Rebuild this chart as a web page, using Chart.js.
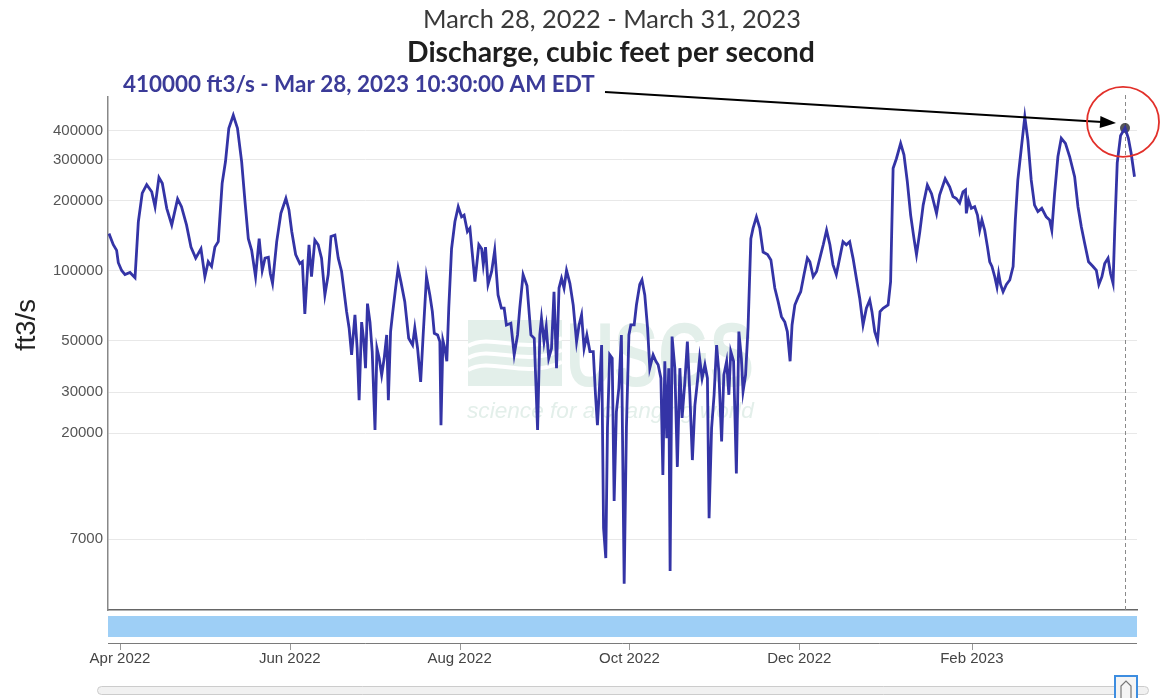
<!DOCTYPE html>
<html>
<head>
<meta charset="utf-8">
<title>Discharge, cubic feet per second</title>
<script src="https://cdn.jsdelivr.net/npm/chart.js@4.4.1/dist/chart.umd.min.js"></script>
<style>
  html, body { margin: 0; padding: 0; background: #fff; }
  #flow-chart { display: block; }
</style>
</head>
<body>
<canvas id="flow-chart" width="1161" height="698"></canvas>
<script>
// days after Apr 1, 2022 and discharge (ft3/s)
const days = [
  -3.95, -2.4, -1.2, -0.6, 0.6, 1.8, 3.6, 5.4, 6.6, 8.0,
  9.6, 11.4, 12.6, 14.0, 15.2, 16.8, 18.6, 20.7, 22.1, 23.9,
  25.5, 27.2, 29.1, 30.5, 31.7, 32.9, 34.1, 35.3, 36.7, 37.9,
  39.1, 40.7, 42.2, 43.7, 44.9, 46.1, 47.3, 48.7, 50.0, 51.1,
  52.1, 53.3, 54.0, 54.8, 56.3, 57.8, 59.6, 60.7, 61.7, 63.1,
  64.6, 65.5, 66.4, 67.9, 68.8, 70.0, 71.2, 72.4, 73.6, 74.8,
  75.8, 77.2, 78.4, 79.6, 81.4, 82.3, 83.2, 84.4, 85.2, 85.9,
  86.8, 87.6, 88.2, 88.9, 89.8, 90.6, 91.6, 92.3, 93.1, 94.0,
  94.9, 95.8, 96.4, 97.2, 97.9, 99.0, 99.9, 100.9, 102.3, 103.7,
  105.1, 105.9, 106.9, 108.0, 108.9, 110.1, 111.3, 112.2, 112.9, 114.1,
  114.9, 115.3, 116.0, 116.7, 117.4, 118.1, 119.1, 120.3, 121.5, 122.7,
  123.6, 124.8, 125.7, 126.5, 127.5, 128.9, 129.9, 130.5, 131.3, 132.2,
  133.5, 134.6, 135.8, 137.0, 138.0, 138.8, 140.4, 141.6, 142.8, 143.6,
  144.8, 146.2, 147.6, 148.8, 150.0, 150.8, 151.4, 152.3, 153.1, 154.0,
  155.0, 155.9, 156.8, 157.7, 158.6, 159.5, 160.4, 161.6, 162.8, 164.0,
  164.9, 165.8, 166.7, 167.7, 168.8, 170.0, 170.8, 171.5, 172.4, 173.0,
  173.7, 174.5, 175.1, 175.9, 176.8, 177.5, 178.3, 179.2, 180.1, 181.1,
  181.9, 182.8, 183.5, 184.7, 185.5, 186.7, 187.5, 188.5, 189.5, 190.3,
  191.5, 192.5, 193.3, 194.3, 195.0, 195.7, 196.4, 197.1, 197.6, 198.3,
  199.3, 200.2, 201.1, 201.9, 202.9, 203.8, 204.7, 205.6, 206.5, 207.4,
  208.2, 209.1, 210.1, 211.0, 211.6, 212.5, 213.4, 214.3, 215.1, 216.1,
  216.9, 217.9, 218.7, 219.4, 220.4, 221.4, 222.3, 223.2, 223.8, 224.7,
  225.6, 226.6, 227.4, 228.6, 229.8, 231.0, 232.6, 233.8, 235.2, 236.4,
  237.6, 238.8, 239.7, 240.7, 241.4, 242.4, 243.6, 244.5, 245.7, 246.9,
  247.8, 249.0, 250.2, 251.7, 252.6, 253.8, 255.0, 256.1, 257.3, 258.5,
  259.7, 260.9, 262.1, 263.3, 264.5, 265.7, 266.9, 268.1, 269.3, 270.1,
  271.1, 272.1, 273.0, 274.1, 275.9, 276.8, 277.7, 278.9, 280.4, 281.6,
  282.8, 284.0, 285.2, 286.1, 287.3, 288.5, 290.0, 291.5, 293.3, 294.4,
  296.4, 298.0, 299.2, 300.4, 301.6, 302.8, 303.7, 304.0, 304.8, 305.8,
  307.0, 308.0, 308.8, 309.6, 310.6, 311.6, 312.4, 313.2, 314.2, 315.0,
  315.6, 316.3, 317.2, 318.4, 319.6, 320.8, 321.6, 322.5, 323.8, 325.0,
  326.1, 327.3, 328.5, 329.7, 331.1, 332.7, 333.9, 334.7, 335.7, 336.9,
  338.1, 339.6, 341.1, 342.9, 344.1, 345.3, 346.5, 347.9, 349.5, 350.7,
  351.6, 352.7, 353.7, 354.9, 355.8, 356.7, 357.3, 358.2, 359.4, 361.0,
  362.2, 363.2, 364.4
];
const flows = [
  144000, 129000, 122000, 108000, 100000, 96000, 98000, 93000, 162000, 215000,
  234000, 218000, 188000, 251000, 237000, 185000, 157000, 203000, 188000, 157000,
  126000, 113000, 124000, 94000, 109000, 104000, 126000, 133000, 237000, 294000,
  409000, 465000, 409000, 294000, 198000, 137000, 122000, 94000, 137000, 100000,
  113000, 114000, 97000, 88000, 133000, 176000, 204000, 182000, 147000, 117000,
  107000, 109000, 65000, 129000, 94000, 135000, 129000, 113000, 78500, 96000,
  140000, 142000, 113000, 99000, 66500, 56600, 43400, 64400, 46200, 27700,
  60000, 49400, 38000, 72000, 60000, 44800, 20600, 46200, 41900, 35500,
  41900, 52800, 27700, 54600, 65000, 84000, 102000, 89500, 73400, 51100,
  47800, 56600, 46200, 33200, 52800, 94000, 78500, 66500, 53700, 52800,
  49400, 21600, 50000, 46200, 40700, 68800, 124000, 162000, 188000, 170000,
  173000, 147000, 152000, 120000, 89500, 129000, 124000, 106000, 126000, 87000,
  99000, 122000, 78500, 68800, 68800, 58300, 59300, 43400, 52800, 68800,
  96000, 86000, 52800, 51100, 20600, 52800, 62300, 49400, 57400, 41900,
  46200, 81000, 38000, 84000, 92500, 84000, 100000, 88000, 71000, 49400,
  58300, 64400, 46200, 52800, 44800, 44800, 29200, 21600, 34400, 47800,
  7800, 5800, 21000, 43400, 41900, 10200, 24600, 31300, 52800, 4500,
  21000, 52800, 58300, 58300, 71000, 87000, 91000, 78500, 56600, 38000,
  43400, 40700, 39300, 34400, 13200, 40700, 19000, 38000, 5100, 52000,
  38000, 14300, 38000, 23200, 33200, 49400, 29200, 15300, 26300, 33200,
  41900, 34400, 39300, 34400, 8600, 21000, 29200, 47800, 36700, 18400,
  35500, 40700, 29200, 44800, 40700, 13400, 54600, 41900, 30200, 35500,
  56600, 137000, 152000, 170000, 152000, 120000, 117000, 111000, 84000, 73400,
  63300, 60000, 54600, 40700, 58300, 71000, 77000, 81000, 96000, 113000,
  109000, 94000, 99000, 117000, 129000, 149000, 129000, 106000, 96000, 113000,
  133000, 129000, 133000, 113000, 92500, 76000, 58300, 68800, 74600, 66500,
  54600, 50000, 66500, 68800, 71000, 89500, 275000, 303000, 352000, 314000,
  241000, 173000, 137000, 117000, 147000, 191000, 233000, 214000, 176000, 211000,
  248000, 229000, 208000, 204000, 195000, 218000, 222000, 176000, 201000, 185000,
  188000, 173000, 149000, 165000, 149000, 126000, 109000, 104000, 94000, 85000,
  97000, 87000, 81000, 87000, 91000, 104000, 165000, 245000, 340000, 458000,
  364000, 245000, 191000, 179000, 185000, 170000, 165000, 149000, 214000, 309000,
  370000, 352000, 309000, 253000, 188000, 154000, 131000, 109000, 104000, 100000,
  87000, 94000, 107000, 113000, 97000, 88000, 149000, 290000, 380000, 410000,
  370000, 319000, 253000
];

// x ticks: first of every second month, as days after Apr 1, 2022
const tickDays = [0, 61, 122, 183, 244, 306];
const tickLabels = ['Apr 2022', 'Jun 2022', 'Aug 2022', 'Oct 2022', 'Dec 2022', 'Feb 2023'];
const yTicks = [7000, 20000, 30000, 50000, 100000, 200000, 300000, 400000];

// highlighted reading
const markerDay = 361;
const markerFlow = 410000;
const markerLabel = '410000 ft3/s - Mar 28, 2023 10:30:00 AM EDT';

const rangeTitle = 'March 28, 2022 - March 31, 2023';
const paramTitle = 'Discharge, cubic feet per second';
const unitTitle = 'ft3/s';

const lineColor = '#3434a6';
const chartCanvas = document.getElementById('flow-chart');

// write text so it takes a given width
function fitText(ctx, text, style, family, width, x, y, align) {
  ctx.font = style + ' 20px ' + family;
  const size = 20 * width / ctx.measureText(text).width;
  ctx.font = style + ' ' + size.toFixed(2) + 'px ' + family;
  ctx.textAlign = align;
  ctx.textBaseline = 'middle';
  ctx.fillText(text, x, y);
}

function drawWatermark(ctx) {
  ctx.save();
  ctx.fillStyle = '#e3efea';
  ctx.fillRect(468, 320, 94, 66);
  ctx.strokeStyle = '#ffffff';
  ctx.lineWidth = 4;
  for (let i = 0; i < 3; i++) {
    const y0 = 346 + i * 12;
    ctx.beginPath();
    ctx.moveTo(468, y0);
    ctx.bezierCurveTo(492, y0 - 14, 522, y0 + 10, 562, y0 - 8);
    ctx.stroke();
  }
  ctx.font = 'bold 90px "Liberation Sans"';
  const w = ctx.measureText('USGS').width;
  ctx.translate(566, 386);
  ctx.scale(188 / w, 1);
  ctx.textAlign = 'left';
  ctx.textBaseline = 'alphabetic';
  ctx.fillText('USGS', 0, 0);
  ctx.restore();

  ctx.save();
  ctx.fillStyle = '#e3efea';
  fitText(ctx, 'science for a changing world', 'italic', '"Liberation Sans"', 287, 467, 412, 'left');
  ctx.restore();
}

const overlayPlugin = {
  id: 'overlay',
  beforeDatasetsDraw(chart) {
    const ctx = chart.ctx;
    const area = chart.chartArea;
    drawWatermark(ctx);
    // dashed crosshair through the highlighted reading
    const px = chart.scales.x.getPixelForValue(markerDay);
    ctx.save();
    ctx.strokeStyle = '#8a8a8a';
    ctx.lineWidth = 1;
    ctx.setLineDash([4, 3]);
    ctx.beginPath();
    ctx.moveTo(Math.round(px) + 0.5, area.top - 2);
    ctx.lineTo(Math.round(px) + 0.5, area.bottom);
    ctx.stroke();
    ctx.restore();
  },
  afterDraw(chart) {
    const ctx = chart.ctx;
    const area = chart.chartArea;
    const xs = chart.scales.x;
    const ys = chart.scales.y;

    ctx.save();
    // titles
    ctx.fillStyle = '#3a3a3a';
    fitText(ctx, rangeTitle, 'normal', 'Lato', 378, 612, 20, 'center');
    ctx.fillStyle = '#1e1e1e';
    fitText(ctx, paramTitle, 'bold', 'Lato', 408, 611, 53, 'center');
    ctx.fillStyle = '#3b3b98';
    fitText(ctx, markerLabel, 'bold', 'Lato', 472, 123, 85, 'left');

    // y axis title
    ctx.save();
    ctx.translate(27, 325);
    ctx.rotate(-Math.PI / 2);
    ctx.fillStyle = '#222';
    fitText(ctx, unitTitle, 'normal', '"Liberation Sans"', 52, 0, 0, 'center');
    ctx.restore();

    // navigator strip under the plot
    ctx.fillStyle = 'rgb(158, 207, 246)';
    ctx.fillRect(area.left, 616, area.right - area.left, 21);
    ctx.strokeStyle = '#7a7a7a';
    ctx.lineWidth = 1;
    ctx.beginPath();
    ctx.moveTo(area.left, 643.5);
    ctx.lineTo(area.right, 643.5);
    ctx.stroke();
    ctx.strokeStyle = '#999';
    tickDays.forEach(function (d) {
      const tx = Math.round(xs.getPixelForValue(d)) + 0.5;
      ctx.beginPath();
      ctx.moveTo(tx, 644);
      ctx.lineTo(tx, 650);
      ctx.stroke();
    });

    // scrollbar
    ctx.fillStyle = '#f1f1f1';
    ctx.strokeStyle = '#cccccc';
    ctx.beginPath();
    ctx.roundRect(97.5, 686.5, 1051, 8, 4);
    ctx.fill();
    ctx.stroke();
    ctx.fillStyle = '#f4f4f4';
    ctx.strokeStyle = '#3d8de0';
    ctx.lineWidth = 2;
    ctx.fillRect(1115, 676, 22, 24);
    ctx.strokeRect(1115, 676, 22, 24);
    ctx.strokeStyle = '#777';
    ctx.lineWidth = 1.2;
    ctx.beginPath();
    ctx.moveTo(1121, 698);
    ctx.lineTo(1121, 686);
    ctx.lineTo(1126, 681);
    ctx.lineTo(1131, 686);
    ctx.lineTo(1131, 698);
    ctx.stroke();

    // arrow and ring pointing at the highlighted reading
    const mx = xs.getPixelForValue(markerDay);
    const my = ys.getPixelForValue(markerFlow);
    const tipX = mx - 9, tipY = my - 5;
    const sx = 605, sy = 92;
    const ang = Math.atan2(tipY - sy, tipX - sx);
    ctx.strokeStyle = '#000';
    ctx.fillStyle = '#000';
    ctx.lineWidth = 2;
    ctx.beginPath();
    ctx.moveTo(sx, sy);
    ctx.lineTo(tipX - 14 * Math.cos(ang), tipY - 14 * Math.sin(ang));
    ctx.stroke();
    ctx.beginPath();
    ctx.moveTo(tipX, tipY);
    ctx.lineTo(tipX - 16 * Math.cos(ang) + 6 * Math.sin(ang), tipY - 16 * Math.sin(ang) - 6 * Math.cos(ang));
    ctx.lineTo(tipX - 16 * Math.cos(ang) - 6 * Math.sin(ang), tipY - 16 * Math.sin(ang) + 6 * Math.cos(ang));
    ctx.closePath();
    ctx.fill();

    ctx.strokeStyle = '#e2302a';
    ctx.lineWidth = 1.8;
    ctx.beginPath();
    ctx.ellipse(mx - 2, my - 6, 36, 35, 0, 0, Math.PI * 2);
    ctx.stroke();
    ctx.restore();
  }
};

const config = {
  type: 'line',
  data: {
    datasets: [{
      label: 'Discharge',
      data: days.map(function (d, i) { return { x: d, y: flows[i] }; }),
      borderColor: lineColor,
      backgroundColor: lineColor,
      borderWidth: 2.8,
      pointRadius: 0,
      tension: 0,
      fill: false
    }, {
      label: 'Reading',
      data: [{ x: markerDay, y: markerFlow }],
      pointRadius: 5,
      pointBackgroundColor: 'rgba(55, 55, 60, 0.85)',
      pointBorderWidth: 0,
      showLine: false
    }]
  },
  options: {
    responsive: false,
    animation: false,
    layout: { padding: { top: 97, right: 24, left: 0, bottom: 0 } },
    plugins: {
      legend: { display: false },
      tooltip: { enabled: false }
    },
    scales: {
      x: {
        type: 'linear',
        min: -4.3,
        max: 365.3,
        afterBuildTicks: function (axis) {
          axis.ticks = tickDays.map(function (d) { return { value: d }; });
        },
        afterFit: function (axis) { axis.height = 88; },
        grid: { display: false, drawTicks: false },
        border: { display: true, color: '#666', width: 1.5 },
        ticks: {
          autoSkip: false,
          maxRotation: 0,
          padding: 40,
          color: '#444',
          font: { family: '"Liberation Sans"', size: 15 },
          callback: function (value, index) { return tickLabels[index]; }
        }
      },
      y: {
        type: 'logarithmic',
        min: 3467,
        max: 557000,
        afterBuildTicks: function (axis) {
          axis.ticks = yTicks.map(function (v) { return { value: v }; });
        },
        afterFit: function (axis) { axis.width = 108; },
        grid: { color: '#e8e8e8', drawTicks: false },
        border: { display: true, color: '#888', width: 1.5 },
        ticks: {
          padding: 5,
          color: '#555',
          font: { family: '"Liberation Sans"', size: 15 },
          callback: function (value) { return String(value); }
        }
      }
    }
  },
  plugins: [overlayPlugin]
};

const flowChart = new Chart(chartCanvas, config);
</script>
</body>
</html>
